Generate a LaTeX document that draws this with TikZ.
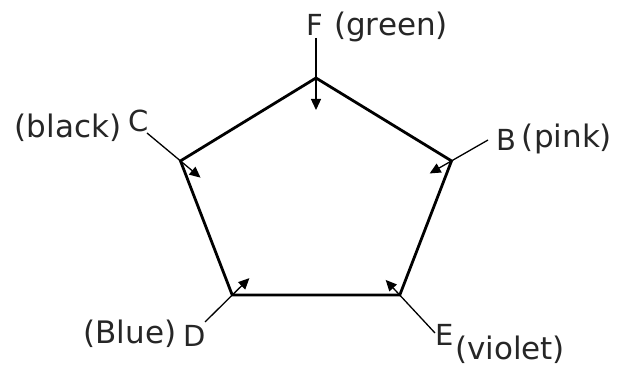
\documentclass[tikz,border=0pt]{standalone}
\usepackage{fontspec}
\setmainfont{DejaVu Sans}
\usetikzlibrary{calc, positioning}
\usetikzlibrary{arrows.meta}

\begin{document}
\begin{tikzpicture}[x=1pt, y=1pt,
  side/.style={line width=2.8pt, line join=miter},
  ptr/.style={line width=1.3pt, -{Triangle[length=11pt, width=10pt]}},
  lbl/.style={inner sep=0pt, text=black!85, font=\fontsize{29}{34}\selectfont},
  clr/.style={inner sep=0pt, text=black!85, font=\fontsize{31}{36}\selectfont}]
\useasboundingbox (0,0) rectangle (620,366);
\coordinate (O) at (316, 168);
\foreach \ang/\vtx in {90/F, 18/B, -54/E, -126/D, 162/C} {
  \coordinate (\vtx) at ($(O)+(\ang:142.5 and 120)$);
}

% pentagon
\draw[side] (F) -- (B) -- (E) -- (D) -- (C) -- cycle;

% arrow tails
\coordinate (tF) at (316, 328);
\coordinate (tC) at (147, 233);
\coordinate (tB) at (488, 226);
\coordinate (tD) at (205, 44);
\coordinate (tE) at (435, 33);

\draw[ptr] (tF) -- ($(tF)!1.8!(F)$);
\draw[ptr] (tC) -- ($(tC)!1.6!(C)$);
\draw[ptr] (tB) -- ($(tB)!1.6!(B)$);
\draw[ptr] (tD) -- ($(tD)!1.63!(D)$);
\draw[ptr] (tE) -- ($(tE)!1.4!(E)$);

% labels
\node[lbl] (nF) at (315, 341) {F};
\node[clr] (wF) at (391, 339) {(green)};
\node[lbl] (nC) at (139, 245) {C};
\node[clr] (wC) at (68, 238) {(black)};
\node[lbl] (nB) at (506, 226) {B};
\node[clr] (wB) at (567, 227) {(pink)};
\node[lbl] (nD) at (195, 30) {D};
\node[clr] (wD) at (130, 32) {(Blue)};
\node[lbl] (nE) at (445, 31) {E};
\node[clr] (wE) at (510, 16) {(violet)};
\end{tikzpicture}
\end{document}
